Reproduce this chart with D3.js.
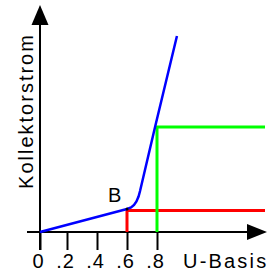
<!DOCTYPE html>
<html lang="en">
<head>
<meta charset="UTF-8">
<script src="https://d3js.org/d3.v7.min.js"></script>
<title>Kollektorstrom</title>
<style>
  body { margin: 0; background: #fff; }
  text { font-family: "Liberation Sans", Arial, sans-serif; }
</style>
</head>
<body>
<script>
// tick labels on the base voltage axis
var tickValues = [0, 0.2, 0.4, 0.6, 0.8];
var tickLabels = ["0", ".2", ".4", ".6", ".8"];

// blue characteristic curve (U-Basis, Kollektorstrom in % of axis)
var curveU = [0, 0.6, 0.627, 0.647, 0.663, 0.677, 0.687, 0.787, 0.933];
var curveI = [0, 11.5, 12.25, 13.5, 15.25, 17.75, 20.5, 52.5, 98];

// operating point lines
var redU = 0.6, redI = 10.8;
var greenU = 0.8, greenI = 52.5;
var lineEndU = 1.52;

var svg = d3.select("body").append("svg").attr("width", 272).attr("height", 274);

// axis is drawn a bit unevenly in the original, so a piecewise scale
var x = d3.scaleLinear().domain([0, 0.2, 0.8]).range([40, 67, 157]);
var y = d3.scaleLinear().domain([0, 100]).range([232, 32]);

// x axis line + arrow
svg.append("line").attr("x1", 27).attr("x2", 250).attr("y1", y(0)).attr("y2", y(0))
   .attr("stroke", "#000").attr("stroke-width", 2);
svg.append("path").attr("d", "M267," + y(0) + "L247," + (y(0) - 8) + "L247," + (y(0) + 8) + "Z")
   .attr("fill", "#000");

// y axis line + arrow
svg.append("line").attr("x1", x(0)).attr("x2", x(0)).attr("y1", 250).attr("y2", 20)
   .attr("stroke", "#000").attr("stroke-width", 2);
svg.append("path").attr("d", "M" + x(0) + ",5L" + (x(0) - 8.5) + ",25L" + (x(0) + 8.5) + ",25Z")
   .attr("fill", "#000");

// ticks
var ax = svg.append("g").attr("transform", "translate(0," + y(0) + ")")
  .call(d3.axisBottom(x).tickValues(tickValues).tickSize(18).tickSizeOuter(0)
        .tickFormat(function(d, i) { return tickLabels[i]; }));
ax.select(".domain").remove();
ax.selectAll(".tick line").attr("stroke", "#000").attr("stroke-width", 2);
ax.selectAll(".tick text").attr("y", 36).attr("dy", 0).attr("dx", -2)
  .style("font-size", "20px").style("font-family", "'Liberation Sans', Arial, sans-serif")
  .style("letter-spacing", "1px").attr("fill", "#000");

// axis titles
svg.append("text").attr("x", 183).attr("y", 268).text("U-Basis")
   .style("font-size", "20px").style("letter-spacing", "2.2px");
svg.append("text").attr("transform", "translate(33,111) rotate(-90)")
   .attr("text-anchor", "middle").text("Kollektorstrom")
   .style("font-size", "20px").style("letter-spacing", "2px");

// red and green lines
svg.append("path").attr("fill", "none").attr("stroke", "#ff0000").attr("stroke-width", 3)
   .attr("d", d3.line()([[x(redU), y(0)], [x(redU), y(redI)], [x(lineEndU), y(redI)]]));
svg.append("path").attr("fill", "none").attr("stroke", "#00ff00").attr("stroke-width", 3)
   .attr("d", d3.line()([[x(greenU), y(0)], [x(greenU), y(greenI)], [x(lineEndU), y(greenI)]]));

// blue curve
var pts = curveU.map(function(u, i) { return [u, curveI[i]]; });
svg.append("path").datum(pts).attr("fill", "none").attr("stroke", "#0000ff").attr("stroke-width", 2.5)
   .attr("d", d3.line().x(function(d) { return x(d[0]); }).y(function(d) { return y(d[1]); }));

// point B
svg.append("circle").attr("cx", x(0.6)).attr("cy", y(11.5)).attr("r", 1.5).attr("fill", "#000");
svg.append("text").attr("x", 108).attr("y", 202).text("B").style("font-size", "20px");
</script>
</body>
</html>
